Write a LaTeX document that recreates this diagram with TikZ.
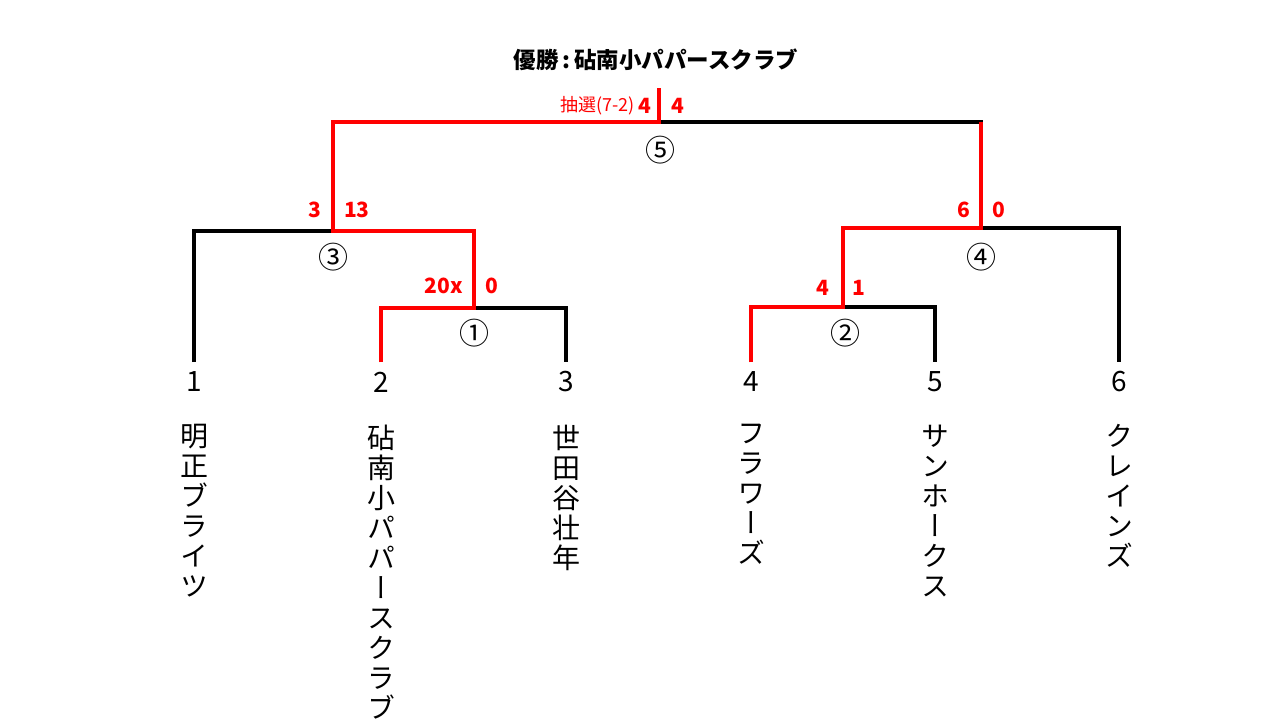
\documentclass[tikz,border=0pt]{standalone}
\usepackage{fontspec}
\setmainfont{Noto Sans CJK JP}
\newfontfamily\tate[RawFeature=+vert]{Noto Sans CJK JP}
\usetikzlibrary{positioning}

\begin{document}
\begin{tikzpicture}[x=1pt,y=-1pt,node distance=32pt,
  bline/.style={line width=3.5pt,black},
  rline/.style={line width=3.5pt,red},
  num/.style={inner sep=0pt,font=\fontsize{28}{28}\selectfont},
  match/.style={inner sep=0pt,font=\fontsize{30}{30}\selectfont},
  team/.style={inner sep=0pt,align=center,anchor=north,font=\tate\fontsize{28}{30}\selectfont},
  score/.style={inner sep=0pt,red,font=\bfseries\fontsize{21}{21}\selectfont}]
\useasboundingbox (0,0) rectangle (1280,720);

% leaves
\node[num] (n1) at (194,382) {1};
\node[num] (n2) at (381,382) {2};
\node[num] (n3) at (566,382) {3};
\node[num] (n4) at (751,382) {4};
\node[num] (n5) at (935,382) {5};
\node[num] (n6) at (1119,382) {6};
\foreach \i in {1,...,6}
  \coordinate (b\i) at ([yshift=20pt]n\i.center);

\node[team,below=of n1] (t1) {明\\正\\ブ\\ラ\\イ\\ツ};
\node[team,below=of n2] (t2) {砧\\南\\小\\パ\\パ\\ー\\ス\\ク\\ラ\\ブ};
\node[team,below=of n3] (t3) {世\\田\\谷\\壮\\年};
\node[team,below=of n4] (t4) {フ\\ラ\\ワ\\ー\\ズ};
\node[team,below=of n5] (t5) {サ\\ン\\ホ\\ー\\ク\\ス};
\node[team,below=of n6] (t6) {ク\\レ\\イ\\ン\\ズ};

% junctions
\coordinate (m1) at (474,308);
\coordinate (m2) at (843,307);
\coordinate (m3) at (333,231);
\coordinate (m4) at (981,228);
\coordinate (m5) at (659,122);
\coordinate (top) at (659,88);

\node[match] (c1) at (474,333) {①};
\node[match] (c2) at (845,333) {②};
\node[match] (c3) at (333,257) {③};
\node[match] (c4) at (981,257) {④};
\node[match] (c5) at (660,150) {⑤};

% bracket
\draw[bline] (b2) |- (m1) -| (b3);
\draw[bline] (b1) |- (m3) -| (m1);
\draw[bline] (b4) |- (m2) -| (b5);
\draw[bline] (m2) |- (m4) -| (b6);
\draw[bline] (m3) |- (m5) -| (m4);

% winners
\draw[rline] (b2) |- (m1) |- (m3) |- (m5) -- (top);
\draw[rline] (b4) |- (m2) |- (m4) -- (m4 |- m5);

% scores
\node[score,anchor=east] (s1a) at (463,286) {20x};
\node[score,anchor=west] (s1b) at (485,286) {0};
\node[score,anchor=east] (s2a) at (829,288) {4};
\node[score,anchor=west] (s2b) at (852,288) {1};
\node[score,anchor=east] (s3a) at (321,210) {3};
\node[score,anchor=west] (s3b) at (344,210) {13};
\node[score,anchor=east] (s4a) at (970,210) {6};
\node[score,anchor=west] (s4b) at (992,210) {0};
\node[score,anchor=east] (s5a) at (651,106) {4};
\node[score,anchor=west] (s5b) at (671,106) {4};
\node[inner sep=0pt,red,anchor=east,font=\fontsize{18}{18}\selectfont] (lot) at ([xshift=-3pt]s5a.west) {抽選(7-2)};

\node[inner sep=0pt,font=\bfseries\fontsize{22.5}{22.5}\selectfont] (champ) at (656,60) {優勝\,:\,砧南小パパースクラブ};
\end{tikzpicture}
\end{document}
